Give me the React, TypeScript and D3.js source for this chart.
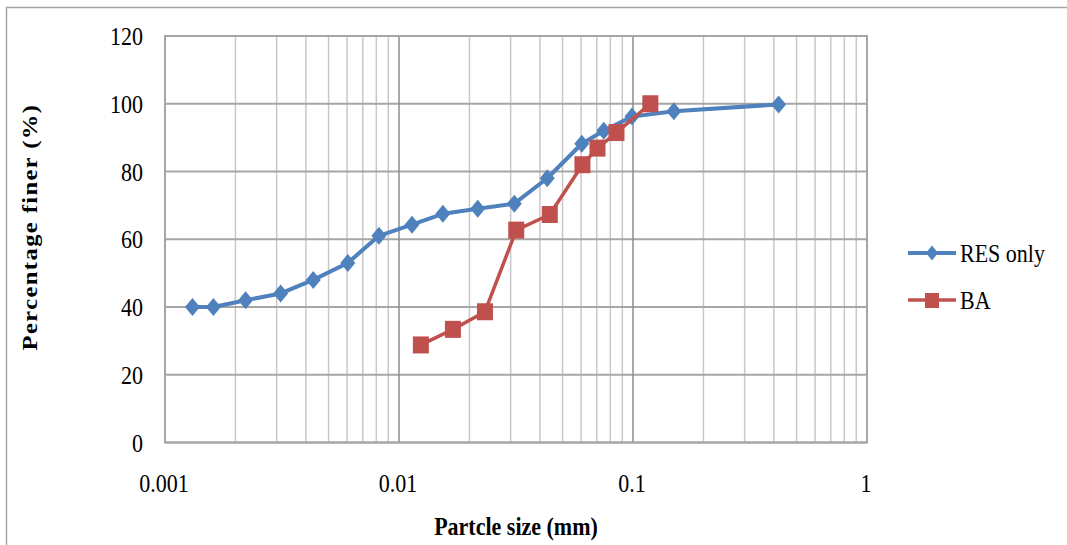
import React from "react";
import * as d3 from "d3";

const width = 1067;
const height = 545;
const margin = { top: 36, right: 200, bottom: 102, left: 165 };

// particle size (mm) and percentage finer
const resSize = [0.00131, 0.00161, 0.00221, 0.00312, 0.0043, 0.00604, 0.00821, 0.01136, 0.0154, 0.0217, 0.0311, 0.043, 0.0604, 0.075, 0.099, 0.1495, 0.419];
const resFiner = [40, 40, 42, 44, 48, 53, 61, 64.3, 67.5, 69, 70.5, 78, 88.2, 92, 96.2, 97.8, 99.8];

const baSize = [0.0124, 0.017, 0.0233, 0.0317, 0.0441, 0.0608, 0.0705, 0.085, 0.1186];
const baFiner = [28.8, 33.4, 38.6, 62.7, 67.3, 82, 86.9, 91.5, 100];

const xTicks = [0.001, 0.01, 0.1, 1];
const yTicks = [0, 20, 40, 60, 80, 100, 120];

const seriesNames = ["RES only", "BA"];
const blue = "#4f81bd";
const red = "#c0504d";
const font = "'Liberation Serif', 'Times New Roman', serif";
const stretch = 1.17;

const x = d3.scaleLog().domain([0.001, 1]).range([margin.left, width - margin.right]);
const y = d3.scaleLinear().domain([0, 120]).range([height - margin.bottom - 0.5, margin.top]);

// minor log gridlines 2..9 in each decade
const minorTicks: number[] = [];
[0.001, 0.01, 0.1].forEach((d) => {
  for (let k = 2; k <= 9; k++) minorTicks.push(d * k);
});

const line = d3
  .line<[number, number]>()
  .x((d) => x(d[0]))
  .y((d) => y(d[1]));

const resPts: [number, number][] = resSize.map((s, i) => [s, resFiner[i]]);
const baPts: [number, number][] = baSize.map((s, i) => [s, baFiner[i]]);

const diamond = (cx: number, cy: number, w: number, h: number) =>
  `M${cx},${cy - h / 2}L${cx + w / 2},${cy}L${cx},${cy + h / 2}L${cx - w / 2},${cy}Z`;

const Label = ({ tx, ty, anchor, children, bold, size = 22 }: any) => (
  <text
    transform={`translate(${tx},${ty}) scale(1,${stretch})`}
    textAnchor={anchor}
    fontFamily={font}
    fontSize={size}
    fontWeight={bold ? "bold" : "normal"}
    fill="#000"
  >
    {children}
  </text>
);

const App = () => {
  const [x0, x1] = x.range();
  const [y0, y1] = y.range();
  return (
    <svg
      width={width}
      height={height}
      style={{ position: "absolute", left: 0, top: 0, background: "#fff" }}
    >
      <rect x={6.5} y={7.5} width={1100} height={600} fill="#fff" stroke="#a6a6a6" strokeWidth={1.5} />

      {/* gridlines */}
      {minorTicks.map((t, i) => (
        <line key={"m" + i} x1={x(t)} x2={x(t)} y1={y1} y2={y0} stroke="#c8c8c8" strokeWidth={1.5} />
      ))}
      {yTicks.map((t) => (
        <line key={"h" + t} x1={x0} x2={x1} y1={y(t)} y2={y(t)} stroke="#a6a6a6" strokeWidth={2} />
      ))}
      {xTicks.map((t) => (
        <line key={"v" + t} x1={x(t)} x2={x(t)} y1={y1} y2={y0} stroke="#8c8c8c" strokeWidth={1.5} />
      ))}
      <rect x={x0} y={y1} width={x1 - x0} height={y0 - y1} fill="none" stroke="#a6a6a6" strokeWidth={2} />

      {/* y tick labels */}
      {yTicks.map((t) => (
        <Label key={"yl" + t} tx={143} ty={y(t) + 9} anchor="end">
          {t}
        </Label>
      ))}
      {/* x tick labels */}
      {xTicks.map((t) => (
        <Label key={"xl" + t} tx={x(t) - 1} ty={492} anchor="middle">
          {String(t)}
        </Label>
      ))}

      {/* axis titles */}
      <Label tx={516} ty={535} anchor="middle" bold>
        Partcle size (mm)
      </Label>
      <text
        transform={`translate(37,227) rotate(-90) scale(${stretch},1)`}
        textAnchor="middle"
        fontFamily={font}
        fontSize={21}
        fontWeight="bold"
        letterSpacing={1.2}
        fill="#000"
      >
        Percentage finer (%)
      </text>

      {/* series */}
      <path d={line(resPts) || ""} fill="none" stroke={blue} strokeWidth={4} strokeLinejoin="round" />
      {resPts.map((d, i) => (
        <path key={"rd" + i} d={diamond(x(d[0]), y(d[1]), 15, 18)} fill={blue} />
      ))}
      <path d={line(baPts) || ""} fill="none" stroke={red} strokeWidth={3.5} strokeLinejoin="round" />
      {baPts.map((d, i) => (
        <rect key={"bs" + i} x={x(d[0]) - 8} y={y(d[1]) - 8.5} width={16} height={17} fill={red} />
      ))}

      {/* legend */}
      <line x1={908} x2={956} y1={253} y2={253} stroke={blue} strokeWidth={4} />
      <path d={diamond(932, 253, 12, 15)} fill={blue} />
      <Label tx={960} ty={262} anchor="start">
        {seriesNames[0]}
      </Label>
      <line x1={908} x2={956} y1={300} y2={300} stroke={red} strokeWidth={3.5} />
      <rect x={925} y={293} width={14} height={15} fill={red} />
      <Label tx={960} ty={309} anchor="start">
        {seriesNames[1]}
      </Label>
    </svg>
  );
};

export default App;
